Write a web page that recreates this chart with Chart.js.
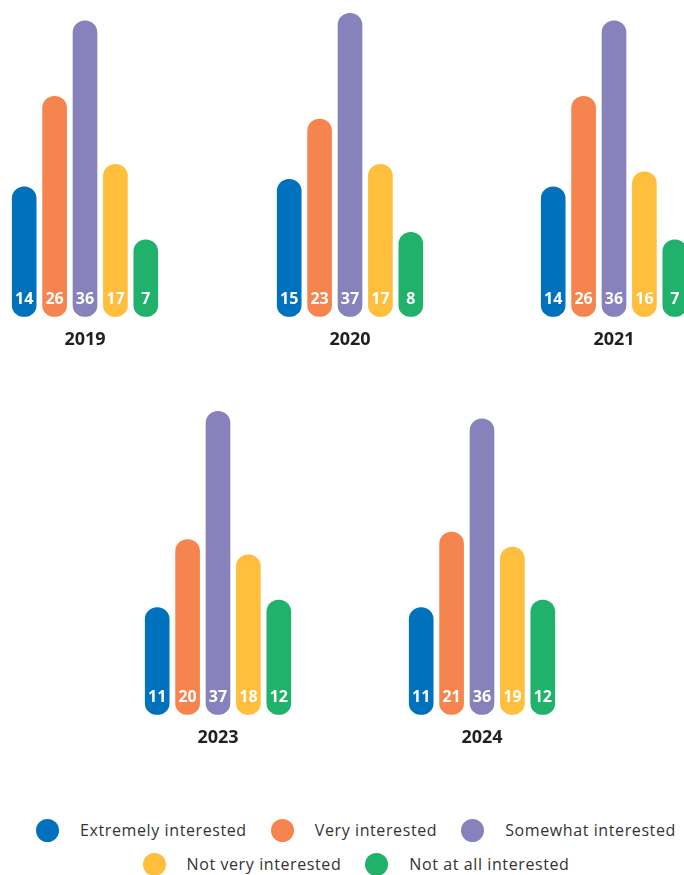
<!DOCTYPE html>
<html>
<head>
<meta charset="utf-8">
<script src="https://cdn.jsdelivr.net/npm/chart.js@4.4.1/dist/chart.umd.min.js"></script>
<style>
  html, body { margin: 0; padding: 0; background: #ffffff; }
  body { width: 684px; height: 875px; position: relative; overflow: hidden; }
  canvas.panel { position: absolute; }
  .legend-row {
    position: absolute; left: 0; width: 712px;
    display: flex; justify-content: center; align-items: center;
    font-family: "Open Sans", sans-serif; font-size: 16px; color: #333333;
    letter-spacing: 0.6px; white-space: nowrap;
  }
  .legend-item { display: flex; align-items: center; margin: 0 12px; }
  .legend-dot { width: 23px; height: 23px; border-radius: 50%; margin-right: 21px; flex: none; }
</style>
</head>
<body>
<canvas class="panel" id="c2019" width="152" height="351" style="left:9px;top:0px"></canvas>
<canvas class="panel" id="c2020" width="152" height="351" style="left:273.7px;top:0px"></canvas>
<canvas class="panel" id="c2021" width="152" height="351" style="left:538.4px;top:0px"></canvas>
<canvas class="panel" id="c2023" width="152" height="351" style="left:141.5px;top:398.2px"></canvas>
<canvas class="panel" id="c2024" width="152" height="351" style="left:406.2px;top:398.2px"></canvas>
<div class="legend-row" id="legendRow1" style="top:818px;height:24px"></div>
<div class="legend-row" id="legendRow2" style="top:852px;height:24px"></div>
<script>
// Survey answers, in percent, per year
const categories = ['Extremely interested', 'Very interested', 'Somewhat interested', 'Not very interested', 'Not at all interested'];
const years = ['2019', '2020', '2021', '2023', '2024'];
const extremelyInterested = [14, 15, 14, 11, 11];
const veryInterested = [26, 23, 26, 20, 21];
const somewhatInterested = [36, 37, 36, 37, 36];
const notVeryInterested = [17, 17, 16, 18, 19];
const notAtAllInterested = [7, 8, 7, 12, 12];

const colors = ['#0071bc', '#f5844f', '#8782bc', '#ffbe3c', '#20b26b'];

// Pill bars start a little below zero so short values still show a label area
const BASE = -3.2;
const UNIT_PX = 7.55;
const TITLE_FONT = { family: 'Open Sans', size: 18, weight: 'bold', lineHeight: 1.2 };
const TITLE_PAD_TOP = 12.6;

const valueLabels = {
  id: 'valueLabels',
  afterDatasetsDraw(chart) {
    const ctx = chart.ctx;
    const meta = chart.getDatasetMeta(0);
    const data = chart.data.datasets[0].data;
    ctx.save();
    ctx.fillStyle = '#ffffff';
    ctx.font = 'bold 16px "Open Sans"';
    ctx.textAlign = 'center';
    ctx.textBaseline = 'middle';
    meta.data.forEach((bar, i) => {
      ctx.fillText(String(data[i]), bar.x, bar.base - 17.5);
    });
    ctx.restore();
  }
};

function drawPanel(idx) {
  const canvas = document.getElementById('c' + years[idx]);
  const values = [extremelyInterested[idx], veryInterested[idx], somewhatInterested[idx], notVeryInterested[idx], notAtAllInterested[idx]];
  const plotHeight = canvas.height - TITLE_PAD_TOP - TITLE_FONT.size * TITLE_FONT.lineHeight;
  new Chart(canvas, {
    type: 'bar',
    data: {
      labels: categories,
      datasets: [{
        data: values,
        base: BASE,
        backgroundColor: colors,
        borderRadius: 12,
        borderSkipped: false,
        barThickness: 24
      }]
    },
    options: {
      responsive: false,
      animation: false,
      devicePixelRatio: 1,
      layout: { padding: 0 },
      scales: {
        x: { display: false },
        y: { display: false, min: BASE, max: BASE + plotHeight / UNIT_PX }
      },
      plugins: {
        legend: { display: false },
        tooltip: { enabled: false },
        title: {
          display: true,
          text: years[idx],
          position: 'bottom',
          color: '#231f20',
          font: TITLE_FONT,
          padding: { top: TITLE_PAD_TOP, bottom: 0 }
        }
      }
    },
    plugins: [valueLabels]
  });
}

years.forEach((_, i) => drawPanel(i));

// Shared legend below the panels
function addLegendItem(rowId, i) {
  const item = document.createElement('div');
  item.className = 'legend-item';
  const dot = document.createElement('span');
  dot.className = 'legend-dot';
  dot.style.background = colors[i];
  const label = document.createElement('span');
  label.textContent = categories[i];
  item.appendChild(dot);
  item.appendChild(label);
  document.getElementById(rowId).appendChild(item);
}
[0, 1, 2].forEach(i => addLegendItem('legendRow1', i));
[3, 4].forEach(i => addLegendItem('legendRow2', i));
</script>
</body>
</html>
